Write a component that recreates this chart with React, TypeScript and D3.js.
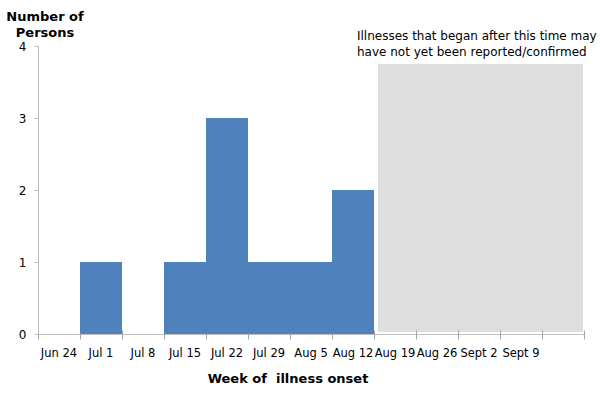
import React, { useEffect, useRef } from "react";
import * as d3 from "d3";

const weeks = ["Jun 24", "Jul 1", "Jul 8", "Jul 15", "Jul 22", "Jul 29", "Aug 5", "Aug 12", "Aug 19", "Aug 26", "Sept 2", "Sept 9", ""];
const cases = [0, 1, 0, 1, 3, 1, 1, 2, 0, 0, 0, 0, 0];
const yTicks = [0, 1, 2, 3, 4];
const pendingFrom = "Aug 19";
const pendingTop = 3.75;
const noteLines = ["Illnesses that began after this time may", "have not yet been reported/confirmed"];

const width = 600;
const height = 395;
const font = "Tahoma, 'DejaVu Sans', sans-serif";

export default function App() {
  const ref = useRef<SVGSVGElement>(null);

  useEffect(() => {
    const svg = d3.select(ref.current);
    svg.selectAll("*").remove();

    const x = d3.scaleBand().domain(weeks).range([38, 584]).padding(0);
    const y = d3.scaleLinear().domain([0, 4]).range([334, 46]);

    // pending region
    svg.append("rect")
      .attr("x", x(pendingFrom)! + 4)
      .attr("y", y(pendingTop))
      .attr("width", 583 - x(pendingFrom)! - 4)
      .attr("height", y(0) - y(pendingTop) - 2)
      .attr("fill", "#dedede");

    // x axis
    const gx = svg.append("g").attr("transform", "translate(0,334.5)");
    gx.append("line").attr("x1", 38).attr("x2", 584).attr("stroke", "#bfbfbf");
    gx.selectAll(".tk").data(d3.range(weeks.length + 1)).join("line").attr("class", "tk")
      .attr("x1", i => Math.round(38 + i * x.step()) + 0.5)
      .attr("x2", i => Math.round(38 + i * x.step()) + 0.5)
      .attr("y1", -4).attr("y2", 5)
      .attr("stroke", "#a6a6a6");
    gx.selectAll("text").data(weeks).join("text")
      .attr("x", d => x(d)! + x.bandwidth() / 2)
      .attr("y", 22)
      .attr("text-anchor", "middle")
      .style("font", `11.5px ${font}`)
      .text(d => d);

    // bars
    svg.selectAll(".bar").data(weeks.map((w, i) => ({ w, v: cases[i] })).filter(d => d.v > 0))
      .join("rect").attr("class", "bar")
      .attr("x", d => x(d.w)!)
      .attr("y", d => y(d.v))
      .attr("width", x.bandwidth())
      .attr("height", d => y(0) - y(d.v))
      .attr("fill", "#4f81bd");

    // y axis
    const gy = svg.append("g").attr("transform", "translate(38.5,0)");
    gy.append("line").attr("y1", y(4)).attr("y2", y(0)).attr("stroke", "#bfbfbf");
    gy.selectAll(".tk").data(yTicks).join("line").attr("class", "tk")
      .attr("x1", -4).attr("x2", 0)
      .attr("y1", d => Math.round(y(d)) + 0.5).attr("y2", d => Math.round(y(d)) + 0.5)
      .attr("stroke", "#bfbfbf");
    gy.selectAll("text").data(yTicks).join("text")
      .attr("x", -12).attr("y", d => y(d) + 5)
      .attr("text-anchor", "end")
      .style("font", `12px ${font}`)
      .text(d => d);

    // titles
    svg.append("text")
      .attr("x", 45).attr("y", 21)
      .attr("text-anchor", "middle")
      .style("font", `bold 13px ${font}`)
      .text("Number  of");
    svg.append("text")
      .attr("x", 45).attr("y", 37)
      .attr("text-anchor", "middle")
      .style("font", `bold 13px ${font}`)
      .text("Persons");
    svg.append("text")
      .attr("x", 288).attr("y", 383)
      .attr("text-anchor", "middle")
      .style("font", `bold 13px ${font}`)
      .style("white-space", "pre")
      .text("Week of  illness onset");

    // note
    svg.selectAll(".note").data(noteLines).join("text").attr("class", "note")
      .attr("x", 357).attr("y", (d, i) => 40 + i * 16)
      .style("font", `12px ${font}`)
      .text(d => d);
  }, []);

  return (
    <svg ref={ref} width={width} height={height}
      style={{ position: "absolute", left: 0, top: 0, background: "#fff" }} />
  );
}
